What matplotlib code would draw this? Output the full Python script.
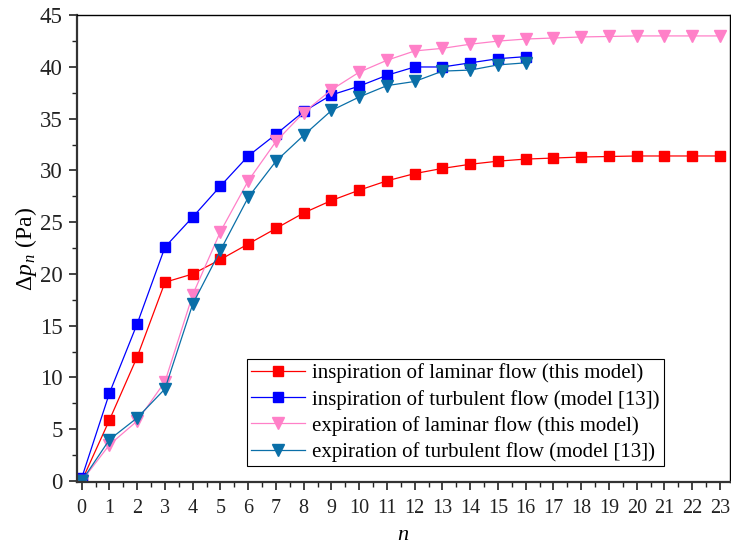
import numpy as np
import matplotlib
matplotlib.use('Agg')
import matplotlib.pyplot as plt
from matplotlib.ticker import MultipleLocator

plt.rcParams['font.family'] = 'Liberation Serif'
plt.rcParams['mathtext.fontset'] = 'custom'
plt.rcParams['mathtext.rm'] = 'Liberation Serif'
plt.rcParams['mathtext.it'] = 'Liberation Serif:italic'

# data
n_long = np.arange(0, 24)
n_short = np.arange(0, 17)

insp_laminar = [0, 5.9, 12.0, 19.2, 20.0, 21.4, 22.9, 24.4, 25.9, 27.1, 28.1, 29.0,
                29.7, 30.2, 30.6, 30.9, 31.1, 31.2, 31.3, 31.35, 31.4, 31.4, 31.4, 31.4]
insp_turbulent = [0.3, 8.5, 15.2, 22.6, 25.5, 28.5, 31.4, 33.5, 35.7, 37.3, 38.15,
                  39.2, 40.0, 40.0, 40.4, 40.8, 41.0]
exp_laminar = [0, 3.5, 5.8, 9.6, 18.0, 24.1, 29.0, 32.8, 35.6, 37.8, 39.5, 40.65,
               41.55, 41.8, 42.2, 42.5, 42.7, 42.8, 42.9, 42.95, 43.0, 43.0, 43.0, 43.0]
exp_turbulent = [0, 4.0, 6.1, 8.9, 17.1, 22.3, 27.4, 30.9, 33.4, 35.8, 37.1, 38.2,
                 38.6, 39.6, 39.7, 40.2, 40.4]

labels = ['inspiration of laminar flow (this model)',
          'inspiration of turbulent flow (model [13])',
          'expiration of laminar flow (this model)',
          'expiration of turbulent flow (model [13])']

fig = plt.figure(figsize=(7.31, 5.44), dpi=100)
ax = fig.add_axes([0.105, 0.114, 0.8936, 0.858])

ax.plot(n_long, insp_laminar, color='#ff0000', marker='s', ms=7.5, lw=0.9, label=labels[0])
ax.plot(n_short, insp_turbulent, color='#0000ff', marker='s', ms=7.5, lw=0.9, label=labels[1])
ax.plot(n_long, exp_laminar, color='#ff80c8', marker='v', ms=9, lw=0.9, label=labels[2])
ax.plot(n_short, exp_turbulent, color='#0a6fa8', marker='v', ms=9, lw=0.9, label=labels[3])

ax.set_xlim(-0.18, 23.36)
ax.set_ylim(-0.1, 45)
ax.xaxis.set_major_locator(MultipleLocator(1))
ax.xaxis.set_minor_locator(MultipleLocator(0.5))
ax.yaxis.set_major_locator(MultipleLocator(5))
ax.yaxis.set_minor_locator(MultipleLocator(2.5))
ax.tick_params(which='major', direction='out', length=6, width=1.2, colors='#222222')
ax.tick_params(which='minor', direction='out', length=3.5, width=1.0, colors='#222222')
ax.tick_params(axis='y', labelsize=16.5, pad=4)
ax.tick_params(axis='x', labelsize=14.5, pad=6)

for s in ['left', 'bottom']:
    ax.spines[s].set_linewidth(1.6)
    ax.spines[s].set_color('#333333')
for s in ['top', 'right']:
    ax.spines[s].set_linewidth(1.0)

ax.set_xlabel('$n$', fontsize=16, labelpad=6)
ax.set_ylabel(r'$\Delta p_{\,n}$ (Pa)', fontsize=17, labelpad=1)

leg = ax.legend(loc='lower left', bbox_to_anchor=(0.26, 0.034), fontsize=15,
                fancybox=False, edgecolor='black', framealpha=1, handlelength=2.6,
                labelspacing=0.3, borderpad=0.2, handletextpad=0.35, borderaxespad=0)
leg.get_frame().set_linewidth(0.8)

fig.savefig('out.png', dpi=100)
